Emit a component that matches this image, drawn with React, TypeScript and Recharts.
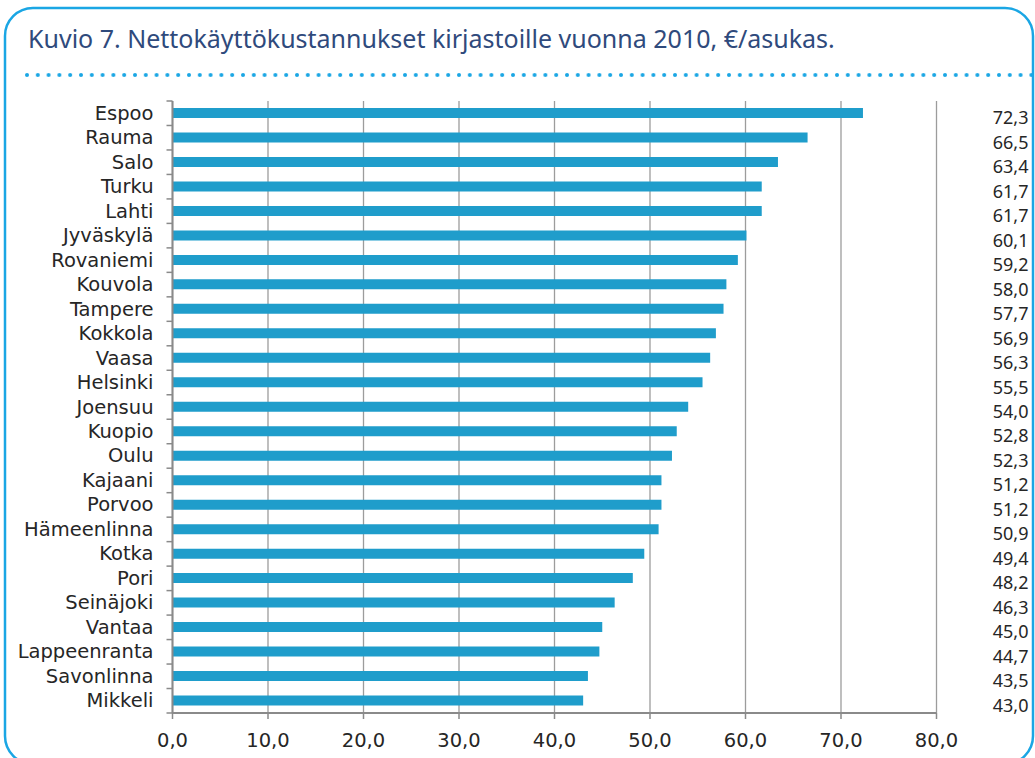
import { Bar, BarChart, CartesianGrid, XAxis, YAxis } from "recharts";

const cities = [
  "Espoo",
  "Rauma",
  "Salo",
  "Turku",
  "Lahti",
  "Jyväskylä",
  "Rovaniemi",
  "Kouvola",
  "Tampere",
  "Kokkola",
  "Vaasa",
  "Helsinki",
  "Joensuu",
  "Kuopio",
  "Oulu",
  "Kajaani",
  "Porvoo",
  "Hämeenlinna",
  "Kotka",
  "Pori",
  "Seinäjoki",
  "Vantaa",
  "Lappeenranta",
  "Savonlinna",
  "Mikkeli",
];

const costs = [
  72.3, 66.5, 63.4, 61.7, 61.7, 60.1, 59.2, 58.0, 57.7, 56.9, 56.3, 55.5, 54.0,
  52.8, 52.3, 51.2, 51.2, 50.9, 49.4, 48.2, 46.3, 45.0, 44.7, 43.5, 43.0,
];

const xTicks = [0, 10, 20, 30, 40, 50, 60, 70, 80];

const TITLE = "Kuvio 7. Nettokäyttökustannukset kirjastoille vuonna 2010, €/asukas.";

const BLUE = "#1aa6e4";
const BAR = "#1f9dcb";
const GRID = "#9c9c9c";
const AXIS = "#8a8a8a";
const TEXT = "#262626";
const VERDANA = "'DejaVu Sans', Verdana, sans-serif";

const fmt = (v: number) => v.toFixed(1).replace(".", ",");

const data = cities.map((name, i) => ({ name, value: costs[i] }));

// category labels sit on band centres, tick marks on band edges (excel style)
function CityTick(props: any) {
  const { x, y, payload, index } = props;
  const off = payload?.offset ?? 12.25;
  const last = index === cities.length - 1;
  return (
    <g>
      <line x1={x - 6} x2={x} y1={y - off} y2={y - off} stroke={AXIS} strokeWidth={1.5} />
      {last ? (
        <line x1={x - 6} x2={x} y1={y + off} y2={y + off} stroke={AXIS} strokeWidth={1.5} />
      ) : null}
      <text
        x={x - 19}
        y={y}
        textAnchor="end"
        dominantBaseline="central"
        fill={TEXT}
        fontFamily={VERDANA}
        fontSize={19.5}
      >
        {payload.value}
      </text>
    </g>
  );
}

function ValueTick(props: any) {
  const { x, y, payload } = props;
  const idx = cities.indexOf(payload.value);
  return (
    <text
      x={x + 92}
      y={y + 4}
      textAnchor="end"
      dominantBaseline="central"
      fill={TEXT}
      fontFamily="'Noto Sans', 'Open Sans', sans-serif"
      fontSize={18}
    >
      {idx >= 0 ? fmt(costs[idx]) : ""}
    </text>
  );
}

function ValueAxisTick(props: any) {
  const { x, y, payload } = props;
  return (
    <g>
      <line x1={x} x2={x} y1={y} y2={y + 6} stroke={AXIS} strokeWidth={1.5} />
      <text
        x={x}
        y={y + 27}
        textAnchor="middle"
        dominantBaseline="central"
        fill={TEXT}
        fontFamily={VERDANA}
        fontSize={19.5}
      >
        {fmt(payload.value)}
      </text>
    </g>
  );
}

export default function App() {
  return (
    <div
      style={{
        position: "fixed",
        left: 0,
        top: 0,
        width: 1035,
        height: 758,
        overflow: "hidden",
        background: "#fff",
      }}
    >
      <svg
        width={1035}
        height={758}
        style={{ position: "absolute", left: 0, top: 0 }}
      >
        <defs>
          <pattern id="dots" x={25} y={0} width={10.8} height={10} patternUnits="userSpaceOnUse">
            <circle cx={2} cy={5} r={2} fill={BLUE} />
          </pattern>
        </defs>
        <rect
          x={5}
          y={8}
          width={1028}
          height={756}
          rx={28}
          ry={28}
          fill="none"
          stroke={BLUE}
          strokeWidth={2.5}
        />
        <text
          x={28}
          y={48}
          fill="#2f4a7c"
          fontFamily="'Noto Sans', 'Open Sans', sans-serif"
          fontSize={25}
        >
          {TITLE}
        </text>
        <rect x={23} y={70} width={1010} height={10} fill="url(#dots)" />
      </svg>
      <div style={{ position: "absolute", left: 0, top: 0 }}>
        <BarChart
          width={1035}
          height={758}
          data={data}
          layout="vertical"
          margin={{ top: 101, right: 0, bottom: 0, left: 0 }}
          barSize={10}
        >
          <CartesianGrid
            horizontal={false}
            vertical
            stroke={GRID}
            strokeWidth={1.3}
            syncWithTicks
          />
          <XAxis
            type="number"
            domain={[0, 80]}
            ticks={xTicks}
            interval={0}
            height={45}
            tickSize={0}
            tickMargin={0}
            tickLine={false}
            axisLine={{ stroke: AXIS, strokeWidth: 2 }}
            tick={<ValueAxisTick />}
          />
          <YAxis
            type="category"
            dataKey="name"
            width={172.5}
            interval={0}
            tickSize={0}
            tickMargin={0}
            tickLine={false}
            axisLine={{ stroke: AXIS, strokeWidth: 2 }}
            tick={<CityTick />}
          />
          <YAxis
            yAxisId="r"
            orientation="right"
            type="category"
            dataKey="name"
            width={98.5}
            interval={0}
            tickSize={0}
            tickMargin={0}
            tickLine={false}
            axisLine={false}
            tick={<ValueTick />}
          />
          <Bar dataKey="value" fill={BAR} isAnimationActive={false} />
        </BarChart>
      </div>
    </div>
  );
}
